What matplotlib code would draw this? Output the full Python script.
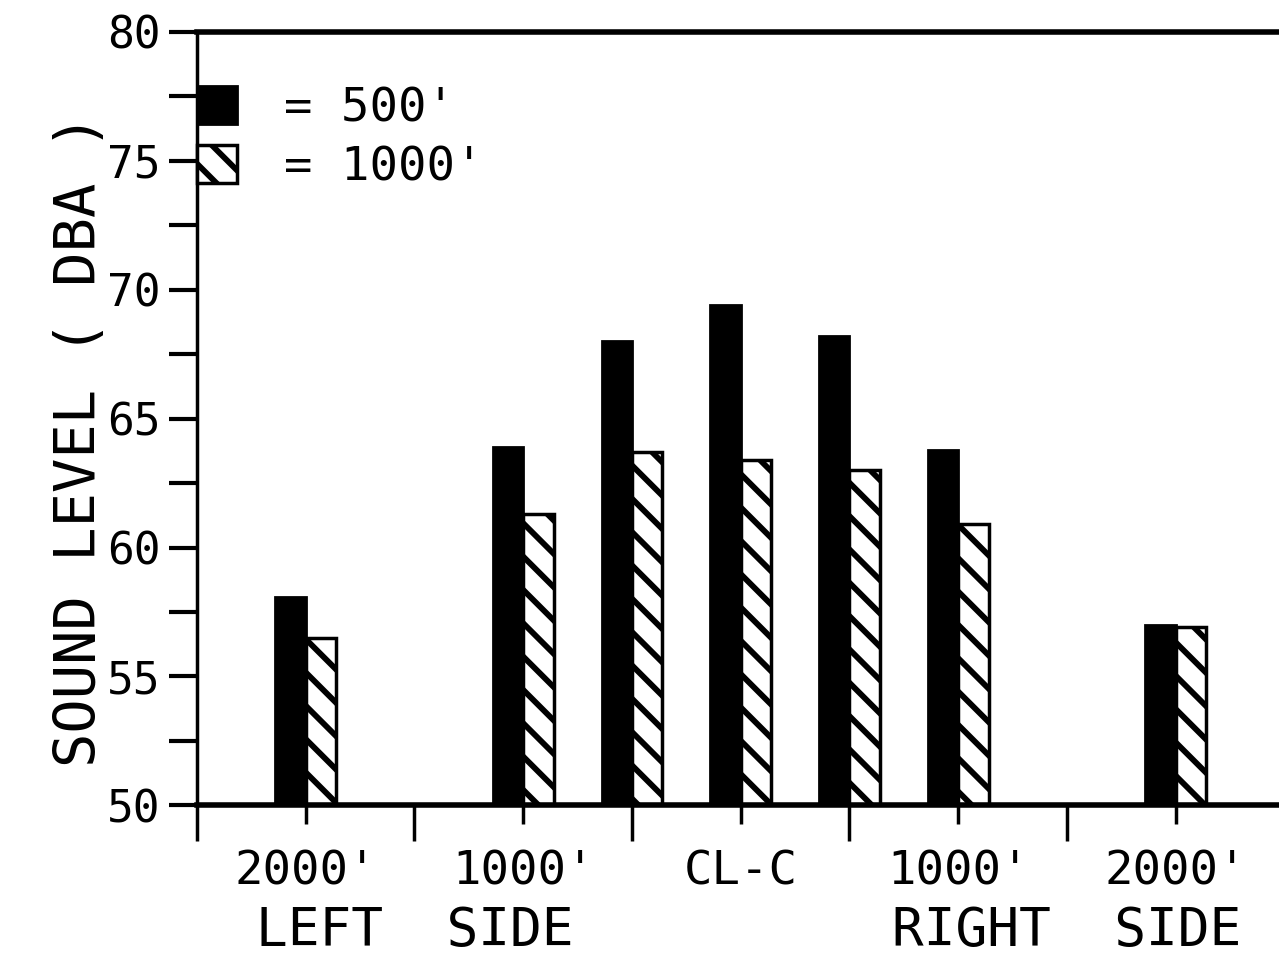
import numpy as np
import matplotlib
matplotlib.use('Agg')
import matplotlib.pyplot as plt

# Данные: уровень шума по позициям
positions = [1, 3, 4, 5, 6, 7, 9]
level_500 = [58.1, 63.9, 68.0, 69.4, 68.2, 63.8, 57.0]
level_1000 = [56.5, 61.3, 63.7, 63.4, 63.0, 60.9, 56.9]
tick_labels = ["2000'", "1000'", "CL-C", "1000'", "2000'"]
tick_label_pos = [1, 3, 5, 7, 9]
legend_labels = ["= 500'", "= 1000'"]

plt.rcParams['font.family'] = ['DejaVu Sans Mono']
plt.rcParams['hatch.linewidth'] = 4.2
plt.rcParams['hatch.color'] = 'black'

fig = plt.figure(figsize=(12.79, 9.68), dpi=100)
ax = fig.add_axes([0.154, 0.168, 0.846, 0.799])

w = 0.28
x = np.array(positions)
ax.bar(x - w / 2, level_500, width=w, color='black',
       edgecolor='black', linewidth=2, label=legend_labels[0])
ax.bar(x + w / 2, level_1000, width=w, color='white',
       edgecolor='black', linewidth=2.5, hatch='\\', label=legend_labels[1])

ax.set_ylim(50, 80)
ax.set_xlim(0, 9.95)

ax.set_yticks(np.arange(50, 81, 5))
ax.set_yticks(np.arange(52.5, 80, 5), minor=True)
ax.set_xticks([0, 2, 4, 6, 8])
ax.set_xticks(tick_label_pos, minor=True)
ax.set_xticklabels([''] * 5)
ax.set_xticklabels(tick_labels, minor=True)

ax.tick_params(axis='y', which='major', direction='out', length=20, width=3,
               labelsize=32, pad=6)
ax.tick_params(axis='y', which='minor', direction='out', length=20, width=3)
ax.tick_params(axis='x', which='major', direction='out', length=26, width=2.5)
ax.tick_params(axis='x', which='minor', direction='out', length=14, width=2.5,
               labelsize=34, pad=18)

ax.spines['left'].set_linewidth(2.5)
for s in ['top', 'bottom']:
    ax.spines[s].set_linewidth(4)
ax.spines['right'].set_visible(False)

# Подписи сторон
ax.text(2, -0.162, 'LEFT  SIDE', transform=ax.get_xaxis_transform(),
        ha='center', va='center', fontsize=38)
ax.text(8, -0.162, 'RIGHT  SIDE', transform=ax.get_xaxis_transform(),
        ha='center', va='center', fontsize=38)

fig.text(0.063, 0.545, 'SOUND LEVEL ( DBA )', rotation=90, ha='center', va='center',
         fontsize=41)

ax.legend(loc='upper left', bbox_to_anchor=(0.0, 0.93), frameon=False,
          fontsize=34, handlelength=0.85, handleheight=0.85, handletextpad=1.0,
          borderpad=0, borderaxespad=0, labelspacing=0.3)

plt.savefig('out.png', dpi=100)
